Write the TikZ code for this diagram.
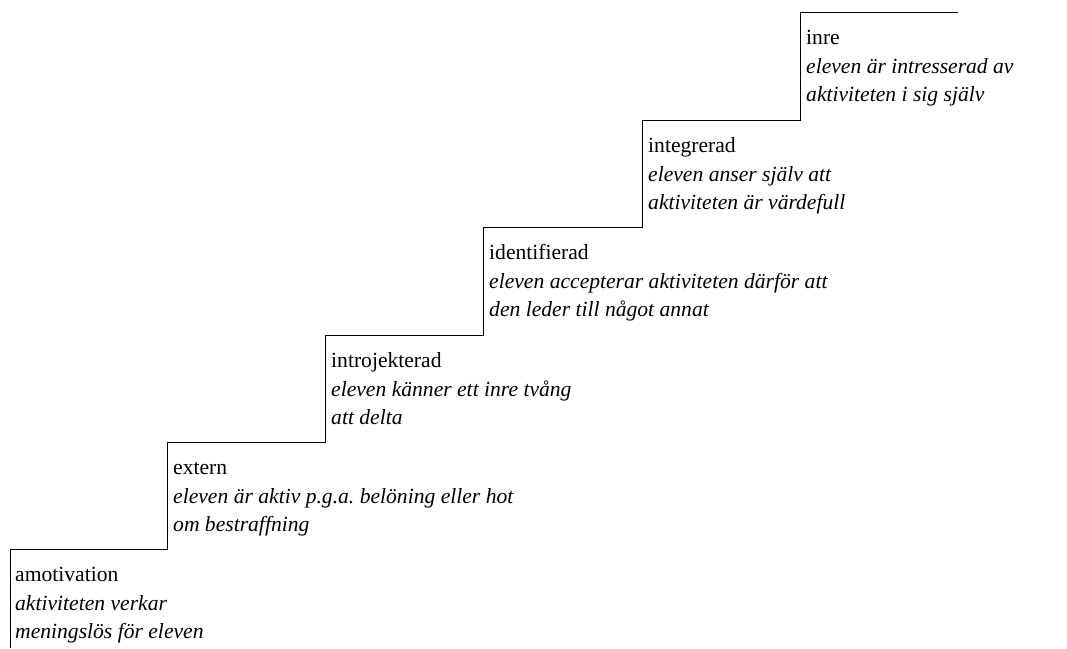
\documentclass[tikz,border=0pt]{standalone}
\usepackage{fontspec}
\setmainfont{Liberation Serif}
\usepackage{tikz}
\frenchspacing

\tikzset{
  stufe/.style={anchor=north west, inner sep=0pt, align=left,
    font=\fontsize{21.6}{28.2}\selectfont},
}

\begin{document}
\begin{tikzpicture}[x=1pt, y=-1pt]
\useasboundingbox (0,0) rectangle (1067,648);

% die Treppe
\draw[line width=0.9pt] (10,648) -- (10,549) -- (167,549) -- (167,442) -- (325,442)
  -- (325,335) -- (483,335) -- (483,227) -- (642,227) -- (642,120)
  -- (800,120) -- (800,12) -- (958,12);

\node[stufe] (amotivation) at (15,562) {\strut amotivation\\
  \textit{aktiviteten verkar}\\
  \textit{meningslös för eleven}};

\node[stufe] (extern) at (173,455) {\strut extern\\
  \textit{eleven är aktiv p.g.a. belöning eller hot}\\
  \textit{om bestraffning}};

\node[stufe] (introjekterad) at (331,348) {\strut introjekterad\\
  \textit{eleven känner ett inre tvång}\\
  \textit{att delta}};

\node[stufe] (identifierad) at (489,240) {\strut identifierad\\
  \textit{eleven accepterar aktiviteten därför att}\\
  \textit{den leder till något annat}};

\node[stufe] (integrerad) at (648,133) {\strut integrerad\\
  \textit{eleven anser själv att}\\
  \textit{aktiviteten är värdefull}};

\node[stufe] (inre) at (806,25) {\strut inre\\
  \textit{eleven är intresserad av}\\
  \textit{aktiviteten i sig själv}};
\end{tikzpicture}
\end{document}
